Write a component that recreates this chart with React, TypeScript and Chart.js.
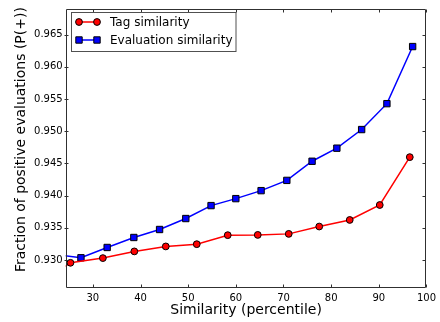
import React, { useEffect, useRef } from "react";
import { Chart, registerables } from "chart.js";

Chart.register(...registerables);

// ---- data ----
const tagX = [18.9, 25.3, 32.1, 38.7, 45.3, 51.8, 58.3, 64.6, 71.1, 77.5, 83.9, 90.2, 96.5];
const tagY = [0.92654, 0.92958, 0.93031, 0.93135, 0.93212, 0.93247, 0.93387, 0.93391, 0.93407, 0.93521, 0.93623, 0.93855, 0.94598];
const evalX = [22.0, 27.5, 33.0, 38.6, 44.0, 49.5, 54.8, 60.0, 65.3, 70.7, 76.0, 81.2, 86.4, 91.7, 97.1];
const evalY = [0.93085, 0.93036, 0.93196, 0.93351, 0.93475, 0.93645, 0.93846, 0.93954, 0.94078, 0.94237, 0.94534, 0.94737, 0.95026, 0.95428, 0.96314];
const seriesNames = ["Tag similarity", "Evaluation similarity"];
const xTicks = [30, 40, 50, 60, 70, 80, 90, 100];
const yTicks = [0.93, 0.935, 0.94, 0.945, 0.95, 0.955, 0.96, 0.965];
const xTitle = "Similarity (percentile)";
const yTitle = "Fraction of positive evaluations (P(+))";

const FONT = "'DejaVu Sans', sans-serif";

const framePlugin = {
  id: "frameTicks",
  afterDatasetsDraw(chart: any) {
    const { ctx, chartArea: a, scales } = chart;
    ctx.save();
    ctx.strokeStyle = "#303030";
    ctx.lineWidth = 1;
    ctx.beginPath();
    const L = Math.round(a.left) + 0.5, R = Math.round(a.right) - 0.5;
    const T = Math.round(a.top) + 0.5, B = Math.round(a.bottom) - 0.5;
    ctx.rect(L, T, R - L, B - T);
    for (const v of xTicks) {
      const px = Math.round(scales.x.getPixelForValue(v)) + 0.5;
      ctx.moveTo(px, B); ctx.lineTo(px, B - 3);
      ctx.moveTo(px, T); ctx.lineTo(px, T + 3);
    }
    for (const v of yTicks) {
      const py = Math.round(scales.y.getPixelForValue(v)) + 0.5;
      ctx.moveTo(L - 2, py); ctx.lineTo(L + 2, py);
      ctx.moveTo(R, py); ctx.lineTo(R - 3, py);
    }
    ctx.stroke();
    ctx.restore();
  },
};

const legendPlugin = {
  id: "boxLegend",
  afterDraw(chart: any) {
    const { ctx } = chart;
    const x0 = 71.5, y0 = 12.5, w = 164.5, h = 39;
    ctx.save();
    ctx.fillStyle = "#ffffff";
    ctx.fillRect(x0, y0, w, h);
    ctx.strokeStyle = "#505050";
    ctx.lineWidth = 1;
    ctx.strokeRect(x0, y0, w, h);
    chart.data.datasets.forEach((ds: any, i: number) => {
      const cy = 22 + i * 18;
      ctx.strokeStyle = ds.borderColor;
      ctx.lineWidth = 1.5;
      ctx.beginPath();
      ctx.moveTo(79, cy); ctx.lineTo(97, cy);
      ctx.stroke();
      ctx.fillStyle = ds.backgroundColor;
      ctx.strokeStyle = "#000";
      ctx.lineWidth = 1;
      for (const mx of [79, 97]) {
        ctx.beginPath();
        if (ds.pointStyle === "rect") {
          ctx.rect(mx - 3.2, cy - 3.2, 6.4, 6.4);
        } else {
          ctx.arc(mx, cy, 3.4, 0, Math.PI * 2);
        }
        ctx.fill();
        ctx.stroke();
      }
      ctx.fillStyle = "#000";
      ctx.font = `12px ${FONT}`;
      ctx.textBaseline = "middle";
      ctx.textAlign = "left";
      ctx.fillText(ds.label, 110, cy + 0.5);
    });
    ctx.restore();
  },
};

export default function App() {
  const ref = useRef<HTMLCanvasElement | null>(null);
  useEffect(() => {
    document.body.style.margin = "0";
    const canvas = ref.current!;
    const chart = new Chart(canvas, {
      type: "line",
      data: {
        datasets: [
          {
            label: seriesNames[0],
            data: tagX.map((x, i) => ({ x, y: tagY[i] })),
            borderColor: "#ff0000",
            backgroundColor: "#ff0000",
            borderWidth: 1.5,
            pointStyle: "circle",
            pointRadius: 3.4,
            pointBorderColor: "#000000",
            pointBorderWidth: 1,
            pointBackgroundColor: "#ff0000",
            tension: 0,
          },
          {
            label: seriesNames[1],
            data: evalX.map((x, i) => ({ x, y: evalY[i] })),
            borderColor: "#0000ff",
            backgroundColor: "#0000ff",
            borderWidth: 1.5,
            pointStyle: "rect",
            pointRadius: 4.5,
            pointBorderColor: "#000000",
            pointBorderWidth: 1,
            pointBackgroundColor: "#0000ff",
            tension: 0,
          },
        ],
      },
      options: {
        responsive: false,
        animation: false,
        events: [],
        layout: { padding: { top: 8, right: 10.7, left: 0, bottom: 0 } },
        plugins: { legend: { display: false }, tooltip: { enabled: false } },
        scales: {
          x: {
            type: "linear",
            min: 24.3,
            max: 100,
            afterFit: (s: any) => { s.height = 34; },
            afterBuildTicks: (s: any) => { s.ticks = xTicks.map((v) => ({ value: v })); },
            grid: { display: false, drawTicks: false },
            border: { display: false },
            ticks: {
              padding: 4,
              color: "#000",
              font: { family: FONT, size: 10 },
              maxRotation: 0,
              callback: (v: any) => String(v),
            },
            title: {
              display: true,
              text: xTitle,
              color: "#000",
              font: { family: FONT, size: 14 },
              padding: { top: 0, bottom: 3 },
            },
          },
          y: {
            type: "linear",
            min: 0.92567,
            max: 0.96897,
            afterFit: (s: any) => { s.width = 65.7; },
            afterBuildTicks: (s: any) => { s.ticks = yTicks.map((v) => ({ value: v })); },
            grid: { display: false, drawTicks: false },
            border: { display: false },
            ticks: {
              padding: 3,
              color: "#000",
              font: { family: FONT, size: 10 },
              callback: (v: any) => Number(v).toFixed(3),
            },
            title: {
              display: true,
              text: "    " + yTitle,
              color: "#000",
              font: { family: FONT, size: 14 },
              padding: { top: 13, bottom: 0 },
            },
          },
        },
      },
      plugins: [framePlugin, legendPlugin],
    });
    return () => chart.destroy();
  }, []);
  return <canvas ref={ref} width={440} height={322} style={{ display: "block", width: 440, height: 322 }} />;
}
